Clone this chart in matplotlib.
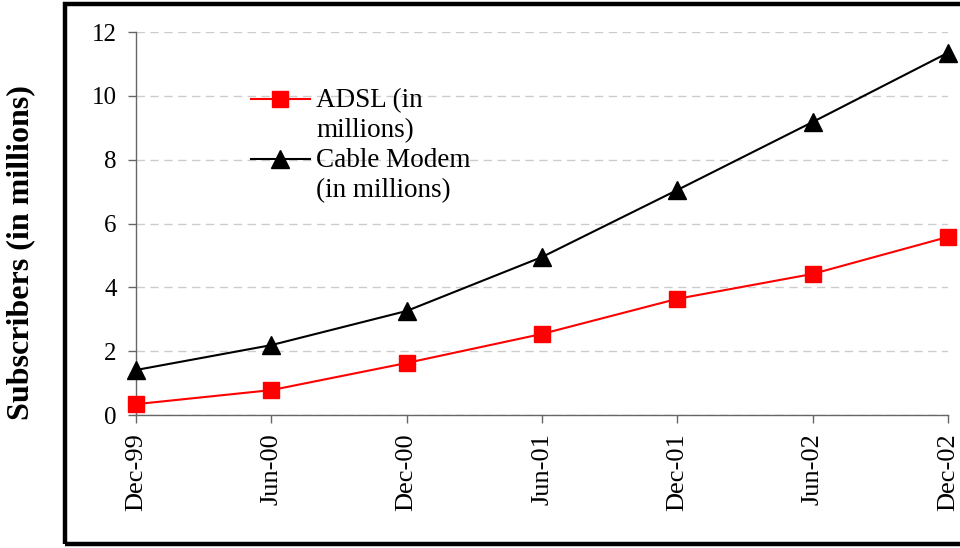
import matplotlib.pyplot as plt
from matplotlib.patches import Rectangle

# Data
periods = ["Dec-99", "Jun-00", "Dec-00", "Jun-01", "Dec-01", "Jun-02", "Dec-02"]
adsl = [0.34, 0.78, 1.63, 2.54, 3.64, 4.42, 5.58]
cable = [1.41, 2.19, 3.26, 4.95, 7.05, 9.18, 11.35]
series_labels = ["ADSL (in\nmillions)", "Cable Modem\n(in millions)"]

plt.rcParams["font.family"] = ["Liberation Serif", "DejaVu Serif"]

fig = plt.figure(figsize=(9.6, 5.48), dpi=100)
ax = fig.add_axes([0.1417, 0.2427, 0.8458, 0.6989])

styles = [
    dict(color="#ff0000", marker="s", ms=11.5),
    dict(color="black", marker="^", ms=13),
]

x = list(range(len(periods)))
for vals, st in zip([adsl, cable], styles):
    ax.plot(x, vals, color=st["color"], lw=1.5, marker=st["marker"], ms=st["ms"],
            mfc=st["color"], mec=st["color"], clip_on=False, zorder=3)

ax.set_xlim(0, len(periods) - 1)
ax.set_ylim(0, 12)
ax.set_yticks(range(0, 13, 2))
ax.set_xticks(x)
ax.set_xticklabels(periods, rotation=90, fontsize=19)
ax.tick_params(axis="y", labelsize=18, length=6, width=1, color="#666666", pad=8)
ax.tick_params(axis="x", length=6, width=1, color="#666666", pad=7)

ax.yaxis.grid(True, color="#cccccc", ls=(0, (6, 4)), lw=1)
ax.set_axisbelow(True)
for s in ["top", "right"]:
    ax.spines[s].set_visible(False)
for s in ["left", "bottom"]:
    ax.spines[s].set_color("#666666")
    ax.spines[s].set_linewidth(1)

fig.text(21 / 960, 1 - 253 / 548, "Subscribers (in millions)", rotation=90,
         ha="center", va="center", fontsize=23, fontweight="bold")

# legend drawn by hand so the marker sits on the first text line
line_step = 30.5 / 383
first_base = [0.804, 0.6475]
for lab, st, yb in zip(series_labels, styles, first_base):
    yh = yb + 0.022
    ax.plot([0.1416, 0.2143], [yh, yh], color=st["color"], lw=1.5,
            transform=ax.transAxes, clip_on=False)
    ax.plot([0.1773], [yh], color=st["color"], marker=st["marker"], ms=st["ms"],
            transform=ax.transAxes, clip_on=False, lw=0)
    for i, part in enumerate(lab.split("\n")):
        ax.text(0.2217, yb - i * line_step, part, transform=ax.transAxes,
                fontsize=19.5, ha="left", va="baseline")

# outer chart border
fig.patches.append(Rectangle((65 / 960, 4 / 548), 1.0, 540 / 548, transform=fig.transFigure,
                             fill=False, lw=3.2, ec="black"))

fig.savefig("out.png", dpi=100)
